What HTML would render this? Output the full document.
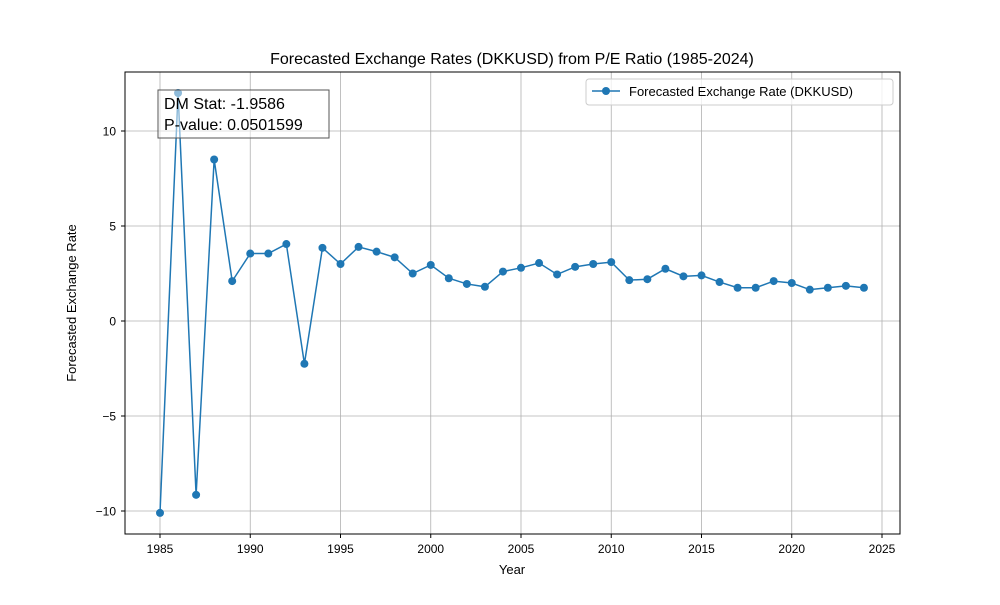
<!DOCTYPE html>
<html><head><meta charset="utf-8"><style>
body{margin:0;background:#fff;}
svg{font-family:"Liberation Sans","DejaVu Sans",sans-serif;}
</style></head><body>
<svg id="chart" width="1000" height="600" viewBox="0 0 1000 600">
<rect width="1000" height="600" fill="#fff"/>
<g id="grid"></g>
<g id="ticks"></g>
<rect x="125" y="72" width="775" height="462" fill="none" stroke="#000" stroke-width="1"/>
<g id="series"></g>
<text x="512" y="64" text-anchor="middle" font-size="16">Forecasted Exchange Rates (DKKUSD) from P/E Ratio (1985-2024)</text>
<text x="512" y="574" text-anchor="middle" font-size="13">Year</text>
<text transform="translate(76,303) rotate(-90)" text-anchor="middle" font-size="13">Forecasted Exchange Rate</text>
<g>
<rect x="158" y="90" width="171" height="48" fill="#fff" fill-opacity="0.5" stroke="#555" stroke-width="1"/>
<text x="164" y="109" font-size="16">DM Stat: -1.9586</text>
<text x="164" y="130" font-size="16">P-value: 0.0501599</text>
</g>
<g>
<rect x="586" y="79" width="307" height="26" rx="3" fill="#fff" fill-opacity="0.8" stroke="#ccc"/>
<line x1="592" y1="91" x2="620" y2="91" stroke="#1f77b4" stroke-width="1.5"/>
<circle cx="606" cy="91" r="4" fill="#1f77b4"/>
<text x="629" y="96" font-size="13">Forecasted Exchange Rate (DKKUSD)</text>
</g>
</svg>
<script>
const years=[1985,1986,1987,1988,1989,1990,1991,1992,1993,1994,1995,1996,1997,1998,1999,2000,2001,2002,2003,2004,2005,2006,2007,2008,2009,2010,2011,2012,2013,2014,2015,2016,2017,2018,2019,2020,2021,2022,2023,2024];
const rates=[-10.1,12.0,-9.15,8.5,2.1,3.55,3.55,4.05,-2.25,3.85,3.0,3.9,3.65,3.35,2.5,2.95,2.25,1.95,1.8,2.6,2.8,3.05,2.45,2.85,3.0,3.1,2.15,2.2,2.75,2.35,2.4,2.05,1.75,1.75,2.1,2.0,1.65,1.75,1.85,1.75];
const xTicks=[1985,1990,1995,2000,2005,2010,2015,2020,2025];
const yTicks=[-10,-5,0,5,10];
const NS="http://www.w3.org/2000/svg";
function xs(v){return 160+(v-1985)*(722/40);}
function ys(v){return 321-v*19;}
function mk(t,a,p){const e=document.createElementNS(NS,t);for(const k in a)e.setAttribute(k,a[k]);p.appendChild(e);return e;}
const grid=document.getElementById('grid'),ticks=document.getElementById('ticks'),ser=document.getElementById('series');
xTicks.forEach(v=>{const x=xs(v);
 const g=mk('line',{x1:x,x2:x,y1:72,y2:534,stroke:'#b0b0b0','stroke-width':0.8},grid);
 
 
 mk('line',{x1:x,x2:x,y1:534,y2:538,stroke:'#000'},ticks);
 const t=mk('text',{x:x,y:553,'text-anchor':'middle','font-size':12},ticks);t.textContent=v;
 
 
});
yTicks.forEach(v=>{const y=ys(v);
 const g=mk('line',{x1:125,x2:900,y1:y,y2:y,stroke:'#b0b0b0','stroke-width':0.8},grid);
 
 
 mk('line',{x1:121,x2:125,y1:y,y2:y,stroke:'#000'},ticks);
 const t=mk('text',{x:116,y:y+4.5,'text-anchor':'end','font-size':12},ticks);t.textContent=(v<0?'\u2212'+(-v):v);
 
 
});
const pts=years.map((y,i)=>xs(y)+','+ys(rates[i])).join(' ');
const pl=mk('polyline',{points:pts,fill:'none',stroke:'#1f77b4','stroke-width':1.5},ser);


years.forEach((y,i)=>{const c=mk('circle',{cx:xs(y),cy:ys(rates[i]),r:4,fill:'#1f77b4'},ser);
 
 
});
</script>
</body></html>
